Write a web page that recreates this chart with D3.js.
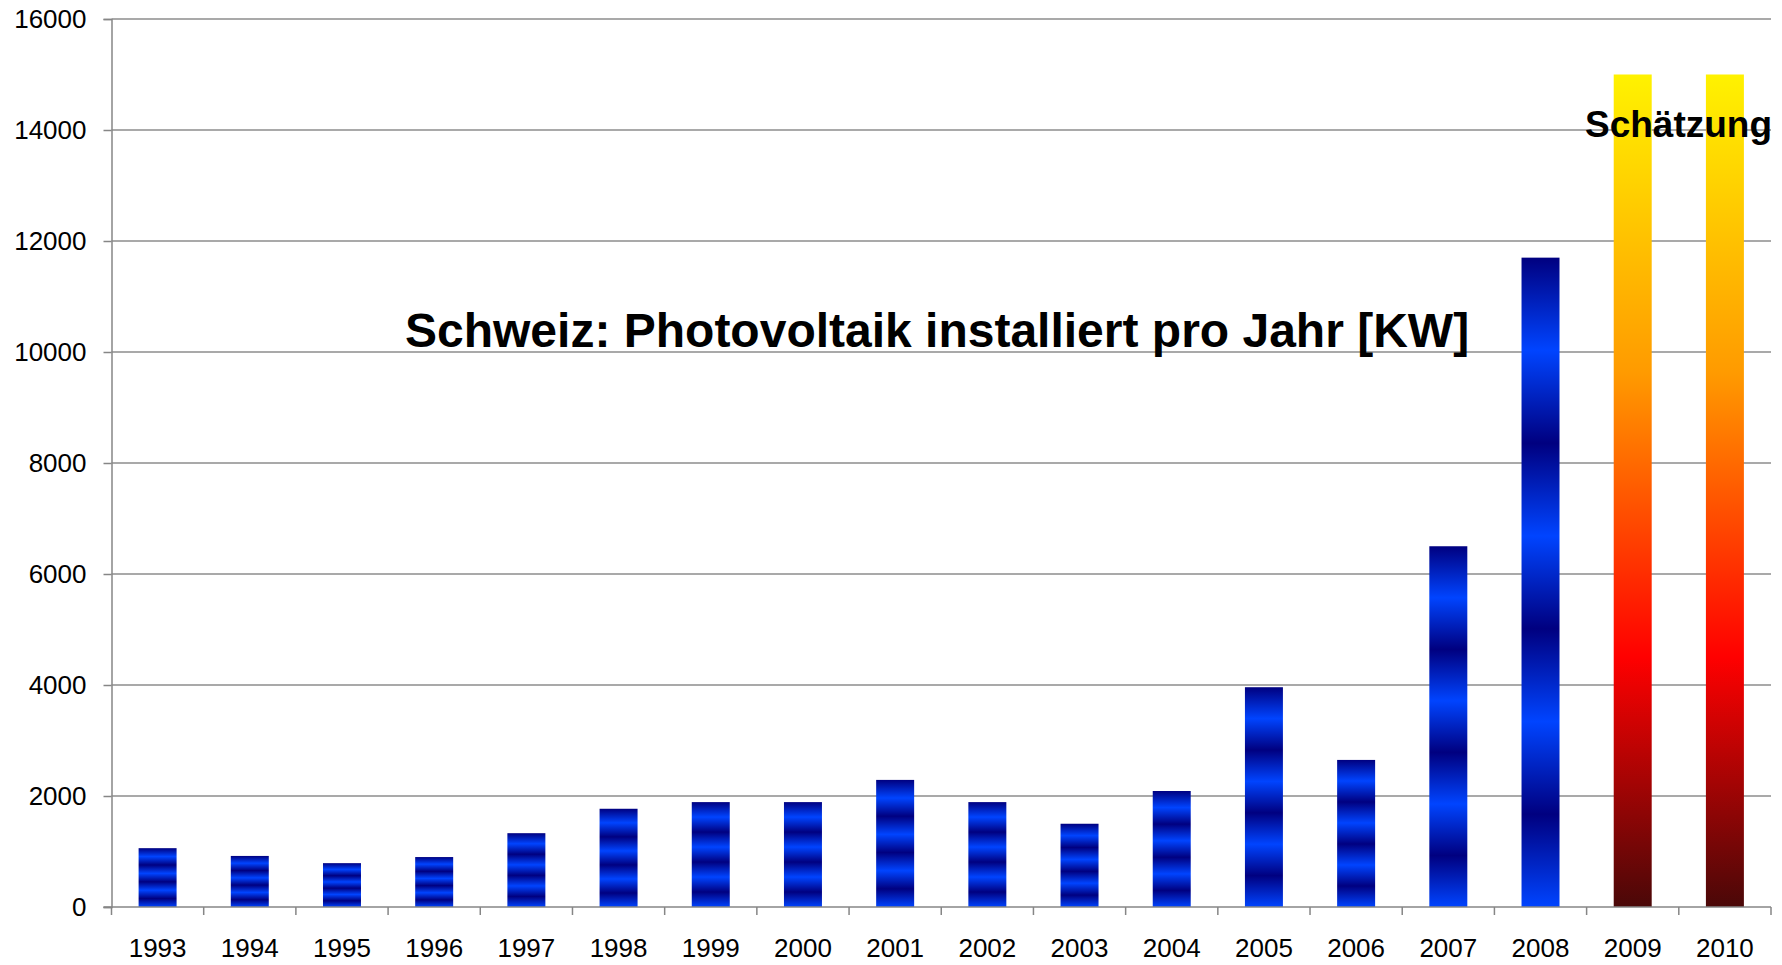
<!DOCTYPE html>
<html lang="de">
<head>
    <meta charset="utf-8">
    <title>Schweiz Photovoltaik</title>
    <script type="text/javascript" src="https://cdn.jsdelivr.net/npm/d3@7"></script>
    <style>
        body { margin: 0; background: #fff; }
        text { font-family: "Liberation Sans", Arial, sans-serif; fill: #000; }
    </style>
</head>
<body>
<script type="text/javascript">
    var years = ["1993", "1994", "1995", "1996", "1997", "1998", "1999", "2000", "2001",
        "2002", "2003", "2004", "2005", "2006", "2007", "2008", "2009", "2010"];
    var installed = [1060, 920, 790, 900, 1330, 1770, 1890, 1890, 2290,
        1890, 1500, 2090, 3960, 2650, 6500, 11700, 15000, 15000];
    var estimated = [false, false, false, false, false, false, false, false, false,
        false, false, false, false, false, false, false, true, true];
    var yTicks = [0, 2000, 4000, 6000, 8000, 10000, 12000, 14000, 16000];

    var w = 1782;
    var h = 965;
    // Plotbereich (Achtung: "top" ist im Browser schon belegt)
    var plotLeft = 111.5, plotRight = 1771, plotTop = 19, plotBottom = 907;

    var svg = d3.select("body")
            .append("svg")
            .attr("width", w)
            .attr("height", h);

    // Verläufe: blau gestreift (je Balken 3.5 Perioden) und Feuer für Schätzung
    var defs = svg.append("defs");
    var blue = defs.append("linearGradient")
            .attr("id", "blau")
            .attr("x1", 0).attr("y1", 0).attr("x2", 0).attr("y2", 1);
    d3.range(8).forEach(function (i) {
        blue.append("stop")
                .attr("offset", i / 7)
                .attr("stop-color", i % 2 === 0 ? "#000080" : "#0044ff");
    });
    var fire = defs.append("linearGradient")
            .attr("id", "feuer")
            .attr("x1", 0).attr("y1", 0).attr("x2", 0).attr("y2", 1);
    [[0, "#fff200"], [0.36, "#ff9a00"], [0.70, "#ff0000"], [1, "#4a0808"]].forEach(function (s) {
        fire.append("stop").attr("offset", s[0]).attr("stop-color", s[1]);
    });

    var x = d3.scaleBand()
            .domain(years)
            .range([plotLeft, plotRight])
            .paddingInner(0.588)
            .paddingOuter(0.294);
    var y = d3.scaleLinear()
            .domain([0, 16000])
            .range([plotBottom, plotTop]);

    // Gitterlinien
    svg.append("g")
            .selectAll("line")
            .data(yTicks.slice(1))
            .enter()
            .append("line")
            .attr("x1", plotLeft)
            .attr("x2", plotRight)
            .attr("y1", function (d) { return y(d); })
            .attr("y2", function (d) { return y(d); })
            .attr("stroke", "#8c8c8c")
            .attr("stroke-width", 1.5);

    // Titel
    svg.append("text")
            .attr("x", 405)
            .attr("y", 347)
            .attr("font-size", "48px")
            .attr("font-weight", "bold")
            .text("Schweiz: Photovoltaik installiert pro Jahr [KW]");

    // Balken
    svg.append("g")
            .selectAll("rect")
            .data(installed)
            .enter()
            .append("rect")
            .attr("x", function (d, i) { return x(years[i]); })
            .attr("y", function (d) { return y(d); })
            .attr("width", x.bandwidth())
            .attr("height", function (d) { return plotBottom - y(d); })
            .attr("fill", function (d, i) { return estimated[i] ? "url(#feuer)" : "url(#blau)"; });

    // Y-Achse
    var yAxis = svg.append("g")
            .attr("transform", "translate(" + plotLeft + ",0)")
            .call(d3.axisLeft(y).tickValues(yTicks).tickSize(8).tickPadding(17).tickFormat(d3.format("d")));
    yAxis.select(".domain").attr("stroke", "#868686").attr("stroke-width", 1.5);
    yAxis.selectAll(".tick line").attr("stroke", "#868686").attr("stroke-width", 1.5);
    yAxis.selectAll("text")
            .attr("font-family", "Liberation Sans, Arial, sans-serif")
            .attr("font-size", "26px")
            .attr("fill", "#000");

    // X-Achse: Linie, Teilstriche an Kategoriegrenzen, Jahreszahlen
    var xAxis = svg.append("g");
    xAxis.append("line")
            .attr("x1", plotLeft - 8).attr("x2", plotRight)
            .attr("y1", plotBottom).attr("y2", plotBottom)
            .attr("stroke", "#868686")
            .attr("stroke-width", 1.5);
    xAxis.selectAll("line.tick")
            .data(d3.range(years.length + 1))
            .enter()
            .append("line")
            .attr("class", "tick")
            .attr("x1", function (i) { return plotLeft + i * x.step(); })
            .attr("x2", function (i) { return plotLeft + i * x.step(); })
            .attr("y1", plotBottom)
            .attr("y2", plotBottom + 8)
            .attr("stroke", "#868686")
            .attr("stroke-width", 1.5);
    xAxis.selectAll("text")
            .data(years)
            .enter()
            .append("text")
            .attr("x", function (d) { return x(d) + x.bandwidth() / 2; })
            .attr("y", 957)
            .attr("text-anchor", "middle")
            .attr("font-size", "26px")
            .text(function (d) { return d; });

    // Schätzung
    svg.append("text")
            .attr("x", 1585)
            .attr("y", 137)
            .attr("font-size", "37px")
            .attr("font-weight", "bold")
            .text("Schätzung");
</script>
</body>
</html>
